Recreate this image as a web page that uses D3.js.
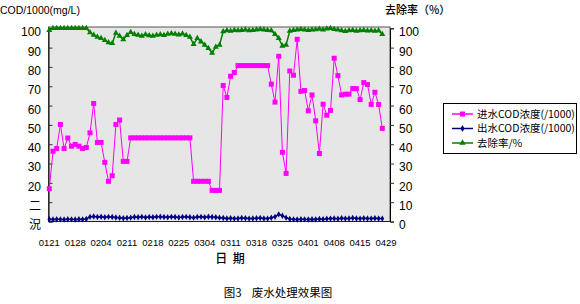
<!DOCTYPE html>
<html lang="zh">
<head>
<meta charset="UTF-8">
<title>废水处理效果图</title>
<script src="https://cdn.jsdelivr.net/npm/d3@7"></script>
<style>
    body { margin: 0; background: #fff; }
    svg { display: block; }
    text { font-family: "Liberation Sans", Arial, sans-serif; fill: #000; }
    .cjk { font-family: "Noto Sans CJK SC", sans-serif; }
</style>
</head>
<body>
<script>
'use strict';
// x 轴标签 (每7个点一个)
var tickLabels = ['0121', '0128', '0204', '0211', '0218', '0225', '0304', '0311',
    '0318', '0325', '0401', '0408', '0415', '0429'];

// 进水 COD 浓度 (/1000)
var inflow = [17, 36.4, 37.8, 50.2, 37.8, 43.2, 39, 39.9, 39, 37.8, 38.3, 45.9, 61.1, 40.9, 40.9,
    30.6, 20.8, 23.7, 50.2, 52.5, 31.1, 31.1,
    43.3, 43.3, 43.3, 43.3, 43.3, 43.3, 43.3, 43.3, 43.3, 43.3, 43.3, 43.3, 43.3, 43.3, 43.3, 43.3, 43.3,
    20.8, 20.8, 20.8, 20.8, 20.8,
    16.1, 16.1, 16.1,
    70.4, 64.2, 75.2, 77.1,
    80.7, 80.7, 80.7, 80.7, 80.7, 80.7, 80.7, 80.7, 80.7,
    71.1, 61.8, 85.5, 35.8, 24.9, 77.9, 75.7, 94.3, 67.4, 67.8, 57.3, 65.5, 52.1, 35.2, 60.7, 55,
    57.5, 84.5, 75.5, 65.5, 65.9, 65.9, 68.8, 68.8, 63.1, 71.9, 70.9, 60.6, 66.9, 60.6, 48.2];

// 出水 COD 浓度 (/1000)
var outflow = [1.2, 1.0, 1.2, 1.1, 1.0, 1.2, 1.1, 1.0, 1.2, 1.1, 1.3,
    2.4, 2.6, 2.3, 2.5, 2.2, 2.4, 2.3, 2.1, 1.9, 1.7, 1.8, 2.0,
    2.3, 2.2, 2.4, 2.1, 2.3, 2.2, 2.4, 2.5, 2.3, 2.2, 2.4, 2.3, 2.1, 2.3, 2.4, 2.2, 2.0, 2.3, 2.4,
    2.2, 2.5, 2.3, 2.2, 2.0,
    1.8, 1.6, 1.7, 1.5, 1.6, 1.8, 1.7, 1.5, 1.6, 1.7, 1.8, 1.6, 1.5, 1.9,
    2.4, 3.7, 3.0, 2.0,
    1.3, 1.1, 1.0, 1.2, 1.1, 1.0, 1.2, 1.1, 1.3, 1.2, 1.4,
    1.5, 1.6, 1.4, 1.7, 1.5, 1.6, 1.8, 1.6, 1.5, 1.7, 1.6, 1.5, 1.7, 1.6, 1.5];

// 去除率 %
var removal = [99, 100, 100, 100, 100, 100, 100, 100, 100, 100, 100,
    97.8, 96.5, 95.5, 94.8, 93.8, 92.6, 92.2, 97.6, 96, 94.2, 96.4, 97.9, 96.9,
    96.5, 96, 96.8, 96.3, 96, 96.5, 96.8, 96.4, 97, 97.3, 97, 96.6, 97.2, 96.4,
    95.5, 91.7, 94.8, 93.1, 91.4, 89.7, 87.2, 90.3, 91.4,
    98.3, 98.8, 98.6, 99, 98.8, 99, 99.2, 98.8, 99, 99.3, 99.5, 99.2, 99, 98.8,
    96.9, 94.8, 90.9, 91.4, 98.6,
    99, 99.2, 99.5, 99.3, 99, 99.2, 99.4, 99.6, 99.3, 99.8, 100, 99.5, 99.2, 98.8, 98.5, 98.9,
    99, 98.6, 98.8, 99, 98.7, 98.9, 98.6, 98.8,
    96.9];

var yTicks = [0, 10, 20, 30, 40, 50, 60, 70, 80, 90, 100];
var leftTickText = ['況', '二', '20', '30', '40', '50', '60', '70', '80', '90', '100'];

var w = 580, h = 304;
var plotL = 48.5, plotR = 390, plotT = 27, plotB = 221.5;

var svg = d3.select('body').append('svg')
    .attr('width', w)
    .attr('height', h);

var x = d3.scaleLinear()
    .domain([0, inflow.length - 1])
    .range([49.3, 382.3]);
var y = d3.scaleLinear()
    .domain([0, 100])
    .range([plotB, 28.3]);

// 绘图区
svg.append('rect')
    .attr('x', plotL).attr('y', plotT)
    .attr('width', plotR - plotL).attr('height', plotB - plotT)
    .attr('fill', '#e6e6e6')
    .attr('stroke', '#555')
    .attr('stroke-width', 1);

// 左轴
var gl = svg.append('g')
    .attr('transform', 'translate(' + plotL + ',0)')
    .call(d3.axisLeft(y).tickValues(yTicks).tickSize(-4).tickPadding(7.5)
        .tickFormat(function(d, i) { return leftTickText[i]; }));
gl.select('.domain').attr('stroke', '#000');
gl.selectAll('.tick line').attr('stroke', '#333');
gl.selectAll('.tick text')
    .attr('font-size', '12px')
    .attr('dy', '0.62em')
    .attr('class', function(d) { return d < 20 ? 'cjk' : null; })
    .attr('font-family', null);

// 右轴
var gr = svg.append('g')
    .attr('transform', 'translate(' + plotR + ',0)')
    .call(d3.axisRight(y).tickValues(yTicks).tickSize(4).tickPadding(5));
gr.select('.domain').attr('stroke', '#000');
gr.selectAll('.tick line').attr('stroke', '#333');
gr.selectAll('.tick text')
    .attr('font-size', '12px')
    .attr('dy', '0.62em')
    .attr('font-family', null);

// 底线
svg.append('line')
    .attr('x1', plotL).attr('x2', plotR)
    .attr('y1', plotB).attr('y2', plotB)
    .attr('stroke', '#222');

// x 轴标签
svg.selectAll('.xlab')
    .data(tickLabels)
    .enter()
    .append('text')
    .attr('class', 'xlab')
    .attr('x', function(d, i) { return x(i * 7); })
    .attr('y', 246)
    .attr('text-anchor', 'middle')
    .attr('font-size', '9.5px')
    .text(function(d) { return d; });

var line = d3.line()
    .x(function(d, i) { return x(i); })
    .y(function(d) { return y(d); });

// 去除率
svg.append('path')
    .attr('d', line(removal))
    .attr('fill', 'none')
    .attr('stroke', '#008000')
    .attr('stroke-width', 1.5);
svg.selectAll('.tri')
    .data(removal)
    .enter()
    .append('path')
    .attr('class', 'tri')
    .attr('d', d3.symbol().type(d3.symbolTriangle).size(16))
    .attr('transform', function(d, i) { return 'translate(' + x(i) + ',' + y(d) + ')'; })
    .attr('fill', '#008000');

// 进水
svg.append('path')
    .attr('d', line(inflow))
    .attr('fill', 'none')
    .attr('stroke', '#ff00ff')
    .attr('stroke-width', 1);
svg.selectAll('.sq')
    .data(inflow)
    .enter()
    .append('rect')
    .attr('class', 'sq')
    .attr('x', function(d, i) { return x(i) - 2.5; })
    .attr('y', function(d) { return y(d) - 2.5; })
    .attr('width', 5).attr('height', 5)
    .attr('fill', '#ff00ff');

// 出水
svg.append('path')
    .attr('d', line(outflow))
    .attr('fill', 'none')
    .attr('stroke', '#000080')
    .attr('stroke-width', 1.5);
svg.selectAll('.dia')
    .data(outflow)
    .enter()
    .append('path')
    .attr('class', 'dia')
    .attr('d', d3.symbol().type(d3.symbolDiamond).size(12))
    .attr('transform', function(d, i) { return 'translate(' + x(i) + ',' + y(d) + ')'; })
    .attr('fill', '#000080');

// 标题
svg.append('text')
    .attr('x', 0).attr('y', 14)
    .attr('font-size', '10.5px')
    .text('COD/1000(mg/L)');
svg.append('text')
    .attr('class', 'cjk')
    .attr('x', 385).attr('y', 14)
    .attr('font-size', '11px')
    .attr('font-weight', '500')
    .text('去除率（%）');
svg.append('text')
    .attr('class', 'cjk')
    .attr('x', 230).attr('y', 263)
    .attr('text-anchor', 'middle')
    .attr('font-size', '12px')
    .attr('font-weight', '500')
    .attr('xml:space', 'preserve')
    .text('日  期');
svg.append('text')
    .attr('class', 'cjk')
    .attr('x', 278).attr('y', 297)
    .attr('text-anchor', 'middle')
    .attr('font-size', '11.5px')
    .attr('xml:space', 'preserve')
    .text('图3    废水处理效果图');

// 图例
var legendItems = [
    { name: '进水COD浓度(/1000)', color: '#ff00ff', mark: 'sq' },
    { name: '出水COD浓度(/1000)', color: '#000080', mark: 'dia' },
    { name: '去除率/%', color: '#008000', mark: 'tri' }
];
svg.append('rect')
    .attr('x', 443.5).attr('y', 103.5)
    .attr('width', 133).attr('height', 50)
    .attr('fill', '#fff')
    .attr('stroke', '#000');
var lg = svg.selectAll('.lg')
    .data(legendItems)
    .enter()
    .append('g')
    .attr('class', 'lg')
    .attr('transform', function(d, i) { return 'translate(0,' + (114 + i * 14.5) + ')'; });
lg.append('line')
    .attr('x1', 452).attr('x2', 473)
    .attr('stroke', function(d) { return d.color; })
    .attr('stroke-width', 1.5);
lg.append('path')
    .attr('d', function(d) {
        if (d.mark === 'sq') return d3.symbol().type(d3.symbolSquare).size(25)();
        if (d.mark === 'dia') return d3.symbol().type(d3.symbolDiamond).size(14)();
        return d3.symbol().type(d3.symbolTriangle).size(18)();
    })
    .attr('transform', 'translate(462.5,0)')
    .attr('fill', function(d) { return d.color; });
lg.append('text')
    .attr('class', 'cjk')
    .attr('x', 477)
    .attr('dy', '0.35em')
    .attr('font-size', '10.5px')
    .text(function(d) { return d.name; });
</script>
</body>
</html>
